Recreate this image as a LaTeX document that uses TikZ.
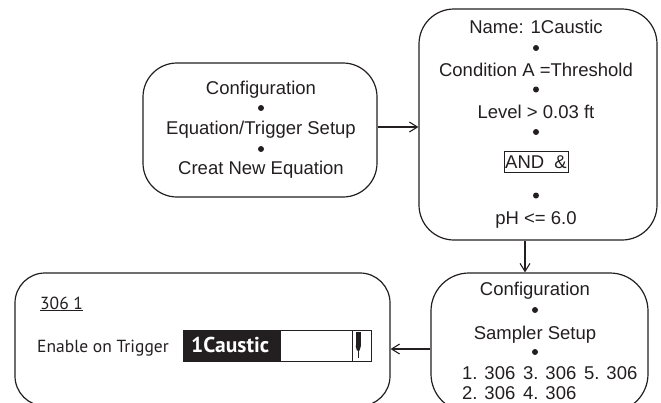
\documentclass[tikz,border=0pt]{standalone}
\usepackage{fontspec}
\setmainfont{Liberation Sans}
\newfontfamily\myr{PT Sans}
\usetikzlibrary{arrows.meta}
\definecolor{ink}{HTML}{231F20}
\begin{document}
\begin{tikzpicture}[x=1pt,y=-1pt,
  box/.style={draw=ink, line width=1.2pt, rounded corners=#1, inner sep=0pt},
  box/.default=34pt,
  txt/.style={anchor=base, inner sep=0pt, font=\fontsize{18.5}{20}\selectfont, text=ink},
  rowtxt/.style={txt, anchor=base west},
  dotm/.style={circle, fill=ink, inner sep=0pt, minimum size=6pt},
  arr/.style={draw=ink, line width=1.1pt, -{Straight Barb[length=8pt,width=10pt,line width=1.1pt]}},
  mtxt/.style={anchor=base west, inner sep=0pt, text=ink, font=\myr\fontsize{17.5}{20}\selectfont},
]
\useasboundingbox (0,0) rectangle (661,402);
\clip (0,0) rectangle (661,402);

% boxes
\node[box, minimum width=234pt, minimum height=134pt] (b1) at (260,130) {};
\node[box=35pt, minimum width=238pt, minimum height=231pt] (b2) at (538,124.5) {};
\node[box=38pt, minimum width=217pt, minimum height=139pt] (b3) at (539.5,342.5) {};
\node[box=30pt, minimum width=375pt, minimum height=133pt] (b4) at (202.5,339.5) {};

% box 1
\node[txt] (t11) at (261,94.5) {Configuration};
\node[dotm] (d11) at (261,108) {};
\node[txt] (t12) at (261,134) {Equation/Trigger Setup};
\node[dotm] (d12) at (261,149) {};
\node[txt] (t13) at (261,174.5) {Creat New Equation};

% box 2
\node[txt] (t21) at (536,33.5) {Name: 1Caustic};
\node[dotm] (d21) at (536,48) {};
\node[txt] (t22) at (536,76.5) {Condition A =Threshold};
\node[dotm] (d22) at (536,89.5) {};
\node[txt] (t23) at (536,118.5) {Level > 0.03 ft};
\node[dotm] (d23) at (536,132) {};
\node[draw=ink, line width=0.8pt, minimum width=64pt, minimum height=21pt, inner sep=0pt,
      text=ink, font=\fontsize{18.5}{20}\selectfont] (and) at (536,162) {AND\ \ \&};
\node[dotm] (d24) at (536,195.5) {};
\node[txt] (t24) at (536,224.5) {pH <= 6.0};

% box 3
\node[txt] (t31) at (535,295.5) {Configuration};
\node[dotm] (d31) at (535,310) {};
\node[txt] (t32) at (535,339.5) {Sampler Setup};
\node[dotm] (d32) at (535,352) {};
\node[rowtxt] (r1) at (462,379.5) {1. 306};
\node[rowtxt] (r3) at (523,379.5) {3. 306};
\node[rowtxt] (r5) at (584,379.5) {5. 306};
\node[rowtxt] (r2) at (462,399) {2. 306};
\node[rowtxt] (r4) at (523,399) {4. 306};

% box 4
\node[mtxt] (id) at (40,309) {\underline{306 1}};
\node[mtxt] (en) at (37,352) {Enable on Trigger};
\draw[ink, line width=0.8pt] (183,330) rectangle (371,361);
\fill[ink] (183,330) rectangle (281,361);
\draw[ink, line width=0.8pt] (352.5,330) -- (352.5,361);
\fill[ink] (355.5,332) rectangle (361,346);
\fill[ink] (355.5,345.5) -- (361,345.5) -- (359.6,350.5) -- (356.9,350.5) -- cycle;
\draw[ink, line width=0.9pt] (358.2,350) -- (358.2,358);
\node[anchor=base west, inner sep=0pt, text=white, font=\myr\bfseries\fontsize{21.5}{24}\selectfont] (cv) at (191,352) {1Caustic};

% connectors
\draw[arr] ([yshift=3pt]b1.east) -- ([yshift=3pt]b1.east -| b2.west);
\draw[arr] ([xshift=-13pt]b2.south) -- ([xshift=-13pt]b2.south |- b3.north);
\draw[arr] ([yshift=-6.5pt]b3.west) -- ([yshift=-6.5pt]b3.west -| b4.east);
\end{tikzpicture}
\end{document}
